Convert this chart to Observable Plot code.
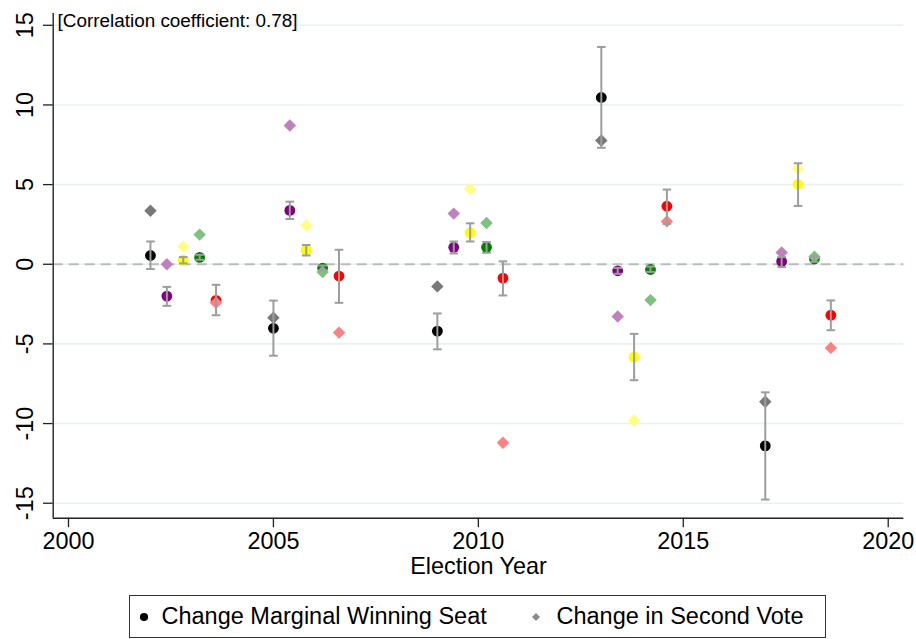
<!DOCTYPE html>
<html>
<head>
<meta charset="utf-8">
<script src="https://cdn.jsdelivr.net/npm/d3@7"></script>
<script src="https://cdn.jsdelivr.net/npm/@observablehq/plot@0.6"></script>
<style>
  body { margin: 0; background: #fff; font-family: "Liberation Sans", Arial, sans-serif; }
  #wrap { position: relative; width: 916px; height: 639px; overflow: hidden; }
  #chart svg { display: block; }
  #legend { position: absolute; left: 129px; top: 595px; width: 695px; height: 41px;
            border: 1.4px solid #333; background: #fff; }
  #legend .item { position: absolute; top: 0; height: 41px; display: flex; align-items: center;
                  font-size: 23.5px; color: #000; white-space: nowrap; }
  #legend svg { display: block; }
</style>
</head>
<body>
<div id="wrap">
  <div id="chart"></div>
  <div id="legend"></div>
</div>
<script>
// ---------- data ----------
const years = [2002, 2005, 2009, 2013, 2017];
const partyOffsets = [0, 0.4, 0.8, 1.2, 1.6]; // year offsets of each party within an election
const partyNames = ["CDU/CSU", "Linke", "FDP", "Grüne", "SPD"];
const seatColors = ["#000000", "#800080", "#ffff00", "#008000", "#ff0000"];
const voteColors = ["#787878", "#c080c0", "#ffff80", "#80c080", "#ff8080"];

// Change Marginal Winning Seat (circles) with confidence bounds, Change in Second Vote (diamonds)
const cduSeat = [0.55, -4.02, -4.2, 10.47, -11.4];
const cduLo   = [-0.30, -5.74, -5.34, 7.31, -14.77];
const cduHi   = [1.43, -2.28, -3.09, 13.64, -8.04];
const cduVote = [3.36, -3.36, -1.39, 7.77, -8.63];

const linkeSeat = [-2.0, 3.38, 1.06, -0.41, 0.18];
const linkeLo   = [-2.61, 2.84, 0.68, -0.60, -0.18];
const linkeHi   = [-1.42, 3.93, 1.43, -0.23, 0.45];
const linkeVote = [0.0, 8.71, 3.18, -3.28, 0.74];

const fdpSeat = [0.26, 0.87, 1.98, -5.82, 5.02];
const fdpLo   = [0.05, 0.55, 1.43, -7.28, 3.66];
const fdpHi   = [0.45, 1.21, 2.57, -4.37, 6.34];
const fdpVote = [1.12, 2.44, 4.73, -9.8, 5.99];

const greenSeat = [0.43, -0.24, 1.06, -0.33, 0.33];
const greenLo   = [0.28, -0.38, 0.72, -0.48, 0.15];
const greenHi   = [0.59, -0.08, 1.40, -0.15, 0.50];
const greenVote = [1.86, -0.49, 2.59, -2.25, 0.47];

const spdSeat = [-2.27, -0.74, -0.87, 3.64, -3.2];
const spdLo   = [-3.2, -2.42, -1.96, 2.53, -4.14];
const spdHi   = [-1.29, 0.91, 0.18, 4.69, -2.27];
const spdVote = [-2.42, -4.29, -11.2, 2.69, -5.25];

const xTicks = [2000, 2005, 2010, 2015, 2020];
const yTicks = [-15, -10, -5, 0, 5, 10, 15];
const corrLabel = "[Correlation coefficient: 0.78]";
const xLabel = "Election Year";
const legendLabels = ["Change Marginal Winning Seat", "Change in Second Vote"];

// ---------- table ----------
const partySeries = [
  [cduSeat, cduLo, cduHi, cduVote],
  [linkeSeat, linkeLo, linkeHi, linkeVote],
  [fdpSeat, fdpLo, fdpHi, fdpVote],
  [greenSeat, greenLo, greenHi, greenVote],
  [spdSeat, spdLo, spdHi, spdVote]
];
const rows = [];
partySeries.forEach(([seat, lo, hi, vote], j) => {
  years.forEach((yr, i) => {
    rows.push({
      x: yr + partyOffsets[j], party: partyNames[j],
      seat: seat[i], lo: lo[i], hi: hi[i], vote: vote[i],
      seatColor: seatColors[j], voteColor: voteColors[j]
    });
  });
});

// ---------- chart ----------
const W = 916, H = 592;
const xDomain = [1999.627, 2020.38];
const yDomain = [-15.94, 15.74];
const capSymbol = { draw(ctx) { const w = 4.3; ctx.moveTo(-w, 0); ctx.lineTo(w, 0); } };
const errColor = "#9d9d9d";
const fs = 23.4;

const chart = Plot.plot({
  width: W, height: H,
  marginLeft: 52.7, marginRight: 12.7, marginTop: 13, marginBottom: H - 517.7,
  style: { fontFamily: "'Liberation Sans', Arial, sans-serif", color: "#000", background: "#fff" },
  x: { domain: xDomain, axis: null },
  y: { domain: yDomain, axis: null },
  marks: [
    Plot.ruleY(yTicks, { stroke: "#eaf1f3", strokeWidth: 1.6 }),
    Plot.ruleY([0], { stroke: "#bcbcbc", strokeWidth: 2.2, strokeDasharray: "10,6" }),
    // seat changes (circles)
    Plot.dot(rows, { x: "x", y: "seat", r: 5.4, fill: "seatColor", symbol: "circle" }),
    // second vote changes (diamonds)
    Plot.dot(rows, { x: "x", y: "vote", r: 5.6, fill: "voteColor", symbol: "diamond2" }),
    // error bars
    Plot.ruleX(rows, { x: "x", y1: "lo", y2: "hi", stroke: errColor, strokeWidth: 2 }),
    Plot.dot(rows, { x: "x", y: "lo", symbol: capSymbol, r: 4, stroke: errColor, strokeWidth: 2, fill: "none" }),
    Plot.dot(rows, { x: "x", y: "hi", symbol: capSymbol, r: 4, stroke: errColor, strokeWidth: 2, fill: "none" }),
    // axes
    Plot.ruleX([xDomain[0]], { stroke: "#222", strokeWidth: 1.4 }),
    Plot.ruleY([yDomain[0]], { stroke: "#222", strokeWidth: 1.4 }),
    Plot.axisY({ ticks: yTicks, tickSize: 9.7, tickFormat: () => "", label: null, strokeWidth: 1.3, stroke: "#222" }),
    Plot.text(yTicks, { y: d => d, text: d => String(d), frameAnchor: "left", rotate: -90, dx: -20.7,
      lineAnchor: "bottom", textAnchor: "middle", fontSize: fs, fill: "#000" }),
    Plot.axisX({ ticks: xTicks, tickSize: 9.5, tickPadding: 5, tickFormat: "d", label: null,
      fontSize: fs, strokeWidth: 1.3, stroke: "#222", fill: "#000" }),
    Plot.text([xLabel], { frameAnchor: "bottom", dy: 56, lineAnchor: "bottom", textAnchor: "middle", fontSize: fs, fill: "#000" }),
    Plot.text([corrLabel], { frameAnchor: "top-left", dx: 4.3, dy: 13.7, lineAnchor: "bottom", textAnchor: "start", fontSize: 18.9, fill: "#000" })
  ]
});
document.getElementById("chart").appendChild(chart);

// ---------- legend ----------
const legend = document.getElementById("legend");
const mk = (html, left, label, textLeft) => {
  const m = document.createElement("div");
  m.className = "item";
  m.style.left = left + "px";
  m.innerHTML = html;
  legend.appendChild(m);
  const t = document.createElement("div");
  t.className = "item";
  t.style.left = textLeft + "px";
  t.textContent = label;
  legend.appendChild(t);
};
mk('<svg width="12" height="12"><circle cx="6" cy="6" r="4.1" fill="#000"/></svg>', 7.7, legendLabels[0], 31.5);
mk('<svg width="12" height="12"><path d="M6,2 L10,6 L6,10 L2,6 Z" fill="#8a8a8a"/></svg>', 400, legendLabels[1], 426.5);
</script>
</body>
</html>
